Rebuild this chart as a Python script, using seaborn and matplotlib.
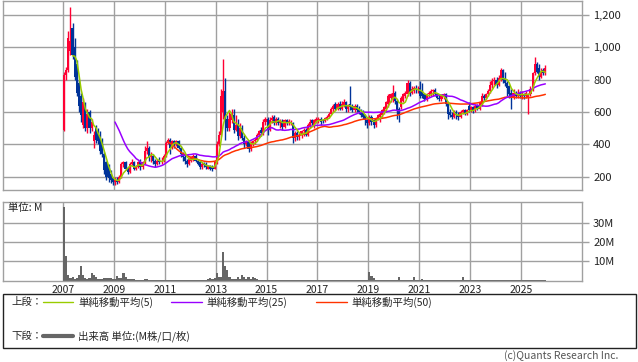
import numpy as np
import pandas as pd
import matplotlib
matplotlib.use("Agg")
import matplotlib.pyplot as plt
from matplotlib.patches import Rectangle
import seaborn as sns

# monthly OHLC, Jan 2007 - Dec 2025 (one line per year)
opens = [
    490, 830, 860, 980, 1120, 1000, 900, 780, 700, 520, 640, 500,
    600, 500, 420, 500, 480, 460, 420, 340, 290, 260, 220, 190,
    170, 180, 165, 200, 280, 290, 250, 230, 280, 290, 250, 260,
    290, 260, 290, 360, 380, 320, 330, 300, 280, 300, 290, 300,
    330, 410, 430, 380, 420, 400, 420, 380, 340, 320, 300, 280,
    300, 310, 330, 300, 290, 260, 280, 280, 250, 265, 260, 250,
    290, 400, 460, 600, 730, 560, 500, 550, 580, 490, 520, 450,
    500, 440, 400, 420, 370, 400, 420, 430, 460, 490, 470, 540,
    560, 490, 550, 570, 530, 560, 530, 545, 510, 550, 530, 530,
    530, 440, 470, 445, 460, 480, 490, 460, 510, 550, 520, 540,
    550, 560, 550, 545, 560, 570, 590, 620, 650, 620, 650, 620,
    640, 660, 620, 650, 640, 610, 640, 620, 600, 600, 580, 550,
    530, 570, 550, 520, 560, 570, 580, 600, 620, 650, 690, 680,
    720, 670, 620, 630, 670, 700, 710, 780, 720, 730, 750, 740,
    750, 730, 710, 680, 710, 710, 730, 735, 710, 690, 680, 700,
    710, 650, 600, 580, 570, 600, 580, 570, 600, 610, 590, 640,
    610, 630, 610, 640, 620, 650, 700, 690, 710, 730, 770, 790,
    800, 770, 800, 860, 810, 780, 760, 720, 690, 720, 700, 720,
    700, 710, 700, 690, 710, 740, 840, 900, 870, 820, 860, 840,
]
highs = [
    850, 880, 1100, 1250, 1150, 1060, 920, 800, 720, 690, 660, 620,
    610, 560, 480, 520, 500, 480, 440, 350, 300, 280, 240, 200,
    200, 200, 210, 290, 300, 300, 260, 290, 310, 300, 270, 300,
    310, 300, 390, 420, 390, 350, 340, 310, 310, 320, 320, 340,
    420, 440, 440, 430, 430, 430, 430, 390, 350, 340, 310, 320,
    330, 340, 340, 310, 300, 290, 290, 290, 270, 270, 275, 300,
    420, 480, 740, 930, 810, 580, 600, 620, 620, 580, 560, 530,
    520, 460, 430, 430, 420, 430, 440, 470, 490, 510, 560, 570,
    570, 570, 580, 580, 570, 570, 560, 555, 560, 560, 560, 550,
    540, 480, 480, 470, 490, 500, 500, 530, 560, 560, 560, 570,
    570, 570, 560, 570, 580, 600, 630, 650, 660, 660, 670, 670,
    680, 670, 650, 760, 650, 650, 650, 640, 620, 610, 590, 560,
    580, 580, 560, 570, 590, 600, 620, 640, 670, 710, 720, 770,
    730, 680, 630, 700, 720, 730, 800, 790, 760, 760, 770, 760,
    790, 780, 720, 720, 730, 740, 745, 750, 720, 710, 710, 720,
    720, 660, 620, 600, 610, 610, 600, 610, 620, 620, 620, 665,
    640, 640, 650, 650, 670, 720, 710, 720, 740, 790, 810, 815,
    815, 830, 870, 865, 850, 790, 770, 740, 740, 730, 740, 730,
    730, 720, 730, 720, 760, 850, 940, 910, 900, 870, 870, 890,
]
lows = [
    480, 800, 850, 950, 930, 800, 700, 600, 540, 500, 480, 470,
    470, 480, 380, 410, 400, 340, 320, 220, 180, 170, 160, 150,
    150, 155, 160, 190, 260, 240, 220, 225, 270, 240, 240, 255,
    240, 250, 280, 340, 300, 290, 280, 260, 270, 280, 280, 290,
    320, 400, 340, 370, 380, 390, 370, 320, 300, 280, 260, 270,
    290, 300, 290, 270, 250, 250, 260, 250, 245, 240, 235, 245,
    280, 390, 450, 560, 430, 480, 480, 530, 470, 480, 430, 440,
    430, 380, 390, 350, 360, 390, 400, 420, 440, 450, 460, 520,
    460, 480, 530, 520, 520, 520, 500, 490, 500, 520, 520, 520,
    410, 420, 430, 430, 440, 450, 450, 450, 500, 520, 500, 530,
    530, 520, 530, 540, 550, 565, 585, 600, 610, 610, 610, 610,
    630, 600, 600, 610, 600, 600, 600, 590, 570, 560, 520, 500,
    520, 520, 500, 510, 550, 540, 570, 590, 600, 630, 660, 660,
    650, 560, 540, 620, 660, 690, 700, 700, 710, 715, 720, 720,
    690, 690, 670, 670, 695, 700, 700, 700, 680, 670, 670, 680,
    640, 560, 570, 560, 565, 560, 550, 565, 590, 580, 580, 600,
    600, 595, 600, 610, 615, 640, 670, 680, 700, 720, 750, 770,
    750, 760, 790, 780, 760, 700, 690, 620, 680, 690, 690, 690,
    680, 680, 690, 590, 700, 730, 830, 840, 800, 810, 830, 830,
]
closes = [
    830, 860, 1060, 1040, 950, 820, 720, 640, 580, 660, 500, 590,
    500, 540, 460, 430, 420, 360, 340, 240, 200, 190, 180, 170,
    180, 165, 200, 280, 290, 250, 230, 280, 290, 250, 260, 290,
    260, 290, 360, 380, 320, 330, 300, 280, 300, 290, 300, 330,
    410, 430, 380, 420, 400, 420, 380, 340, 320, 300, 280, 310,
    320, 330, 300, 280, 260, 280, 270, 260, 265, 250, 245, 290,
    400, 460, 700, 730, 560, 500, 560, 590, 490, 520, 450, 500,
    440, 400, 420, 370, 400, 420, 430, 460, 480, 470, 540, 560,
    490, 550, 565, 530, 555, 530, 545, 510, 550, 530, 545, 540,
    440, 470, 445, 460, 480, 490, 460, 520, 540, 530, 550, 560,
    560, 540, 545, 565, 570, 590, 620, 640, 620, 650, 620, 650,
    660, 620, 640, 630, 610, 640, 610, 600, 580, 570, 550, 530,
    570, 540, 520, 560, 580, 590, 610, 630, 660, 700, 710, 720,
    670, 610, 580, 690, 710, 720, 780, 710, 740, 750, 740, 745,
    700, 700, 680, 710, 715, 730, 735, 710, 690, 680, 700, 710,
    650, 590, 580, 570, 600, 580, 570, 600, 610, 590, 610, 610,
    630, 605, 640, 620, 660, 700, 690, 710, 730, 770, 790, 800,
    770, 810, 860, 800, 780, 750, 710, 690, 720, 700, 720, 700,
    710, 700, 720, 710, 740, 840, 900, 850, 820, 850, 840, 870,
]
# monthly volume in millions of shares
volumes = [
    38, 12.5, 2.6, 1.4, 1.7, 0.9, 1.2, 2.6, 7.3, 2.6, 1.4, 0.9,
    1.4, 3.8, 3.1, 1.7, 0.7, 0.7, 0.7, 1.4, 1.4, 1.4, 1.4, 1.0,
    1.0, 2.1, 1.4, 1.4, 3.8, 2.0, 0.7, 0.7, 0.7, 0.7, 0.5, 0.5,
    0.5, 0.5, 0.7, 1.0, 0.5, 0.3, 0.2, 0.2, 0.2, 0.5, 0.5, 0.5,
    0.5, 0.5, 0.5, 0.5, 0.2, 0.1, 0.1, 0.1, 0.1, 0.1, 0.1, 0.1,
    0.1, 0.1, 0.1, 0.1, 0.1, 0.1, 0.1, 0.5, 0.7, 1.4, 1.0, 1.4,
    3.8, 2.0, 1.7, 15, 7.3, 5.2, 2.0, 1.0, 1.0, 0.6, 2.0, 1.0,
    2.6, 1.7, 1.0, 1.7, 0.7, 1.7, 1.4, 0.7, 0.5, 0.5, 0.5, 0.5,
    0.1, 0.1, 0.1, 0.1, 0.1, 0.5, 0.1, 0.1, 0.1, 0.1, 0.1, 0.5,
    0.1, 0.1, 0.1, 0.1, 0.1, 0.1, 0.1, 0.1, 0.1, 0.1, 0.1, 0.1,
    0.1, 0.1, 0.1, 0.1, 0.1, 0.1, 0.1, 0.1, 0.1, 0.1, 0.1, 0.1,
    0.1, 0.1, 0.1, 0.5, 0.1, 0.1, 0.1, 0.1, 0.1, 0.1, 0.1, 0.1,
    4.3, 2.1, 1.4, 0.5, 0.5, 0.1, 0.1, 0.1, 0.1, 0.1, 0.1, 0.1,
    0.5, 0.5, 1.6, 0.5, 0.1, 0.5, 0.1, 0.1, 0.5, 1.6, 0.5, 0.1,
    0.1, 0.9, 0.5, 0.1, 0.1, 0.1, 0.1, 0.1, 0.1, 0.1, 0.1, 0.1,
    0.5, 0.5, 0.5, 0.5, 0.5, 0.5, 0.5, 0.5, 1.6, 0.5, 0.5, 0.1,
    0.1, 0.5, 0.1, 0.1, 0.5, 0.1, 0.1, 0.1, 0.1, 0.1, 0.1, 0.5,
    0.5, 0.1, 0.5, 0.1, 0.1, 0.1, 0.1, 0.1, 0.1, 0.1, 0.1, 0.1,
    0.1, 0.1, 0.1, 0.1, 0.1, 0.1, 0.5, 0.1, 0.1, 0.1, 0.1, 0.1,
]
price_ticks = [200, 400, 600, 800, 1000, 1200]
volume_ticks = [10, 20, 30]
year_ticks = [2007, 2009, 2011, 2013, 2015, 2017, 2019, 2021, 2023, 2025]

RED = "#ff0033"
BLUE = "#003399"
GRID = "#a0a0a0"

sns.set_style("white")
plt.rcParams["font.family"] = ["Noto Sans CJK JP", "DejaVu Sans"]

df = pd.DataFrame({"open": opens, "high": highs, "low": lows,
                   "close": closes, "volume": volumes})
dates = pd.date_range("2007-01-01", periods=len(df), freq="MS")
df["t"] = dates.year + (dates.month - 0.5) / 12
df["ma5"] = df["close"].rolling(5).mean()
df["ma25"] = df["close"].rolling(25).mean()
df["ma50"] = df["close"].rolling(50).mean()

W, H = 638, 362
fig = plt.figure(figsize=(W / 100, H / 100), dpi=100)


def px_rect(l, t, r, b):
    return [l / W, 1 - b / H, (r - l) / W, (b - t) / H]


ax = fig.add_axes(px_rect(3, 1, 582, 190))
axv = fig.add_axes(px_rect(3, 201.5, 582, 280.5))

# candles
colors = np.where(df["close"] >= df["open"], RED, BLUE)
ax.vlines(df["t"], df["low"], df["high"], colors=colors, lw=1, zorder=2)
body = (df["close"] - df["open"]).abs().clip(lower=5)
ax.bar(df["t"], body, bottom=df[["open", "close"]].min(axis=1),
       width=0.085, color=colors, linewidth=0, zorder=2, antialiased=False)

sns.lineplot(data=df, x="t", y="ma50", ax=ax, color="#ff3300", lw=1.1, zorder=3)
sns.lineplot(data=df, x="t", y="ma25", ax=ax, color="#9900ff", lw=1.1, zorder=3)
sns.lineplot(data=df, x="t", y="ma5", ax=ax, color="#99cc00", lw=1.1, zorder=4)

axv.bar(df["t"], df["volume"], width=1 / 12, color="#666666", linewidth=0,
        zorder=2, antialiased=False)

for a in (ax, axv):
    a.set_xlim(2004.64, 2027.40)
    a.set_xticks(year_ticks)
    a.grid(True, color=GRID, lw=1)
    a.set_axisbelow(True)
    a.yaxis.tick_right()
    a.tick_params(axis="y", direction="out", length=5, width=1, color=GRID,
                  pad=3, labelsize=8, labelcolor="#222222")
    a.set_xlabel("")
    a.set_ylabel("")
    for s in a.spines.values():
        s.set_color(GRID)
        s.set_linewidth(1)

ax.set_ylim(118, 1287)
ax.set_yticks(price_ticks)
ax.set_yticklabels([f"{v:,}" for v in price_ticks])
ax.tick_params(axis="x", length=0, labelbottom=False)

axv.set_ylim(0, 41)
axv.set_yticks(volume_ticks)
axv.set_yticklabels([f"{v}M" for v in volume_ticks])
axv.tick_params(axis="x", length=0, pad=3, labelsize=7.5, labelcolor="#222222")
axv.text(0.008, 0.92, "単位: M", transform=axv.transAxes, fontsize=7.5,
         va="center", ha="left", color="#222222")

# legend box drawn in pixel coordinates
lg = fig.add_axes([0, 0, 1, 1])
lg.set_xlim(0, W)
lg.set_ylim(H, 0)
lg.axis("off")
lg.add_patch(Rectangle((3, 294), 633, 54, fill=False, edgecolor="#222222", lw=1))
fs = 7.5
lg.text(11, 302, "上段：", fontsize=fs, va="center")
lg.plot([43, 73], [302, 302], color="#99cc00", lw=1)
lg.text(78, 302, "単純移動平均(5)", fontsize=fs, va="center")
lg.plot([171, 202], [302, 302], color="#9900ff", lw=1)
lg.text(206, 302, "単純移動平均(25)", fontsize=fs, va="center")
lg.plot([316, 347], [302, 302], color="#ff3300", lw=1)
lg.text(351, 302, "単純移動平均(50)", fontsize=fs, va="center")
lg.text(11, 336, "下段：", fontsize=fs, va="center")
lg.plot([43, 73], [336, 336], color="#666666", lw=3)
lg.text(78, 336, "出来高 単位:(M株/口/枚)", fontsize=fs, va="center")
lg.text(618, 356, "(c)Quants Research Inc.", fontsize=fs, va="center",
        ha="right", color="#555555")

fig.savefig("out.png", dpi=100)
